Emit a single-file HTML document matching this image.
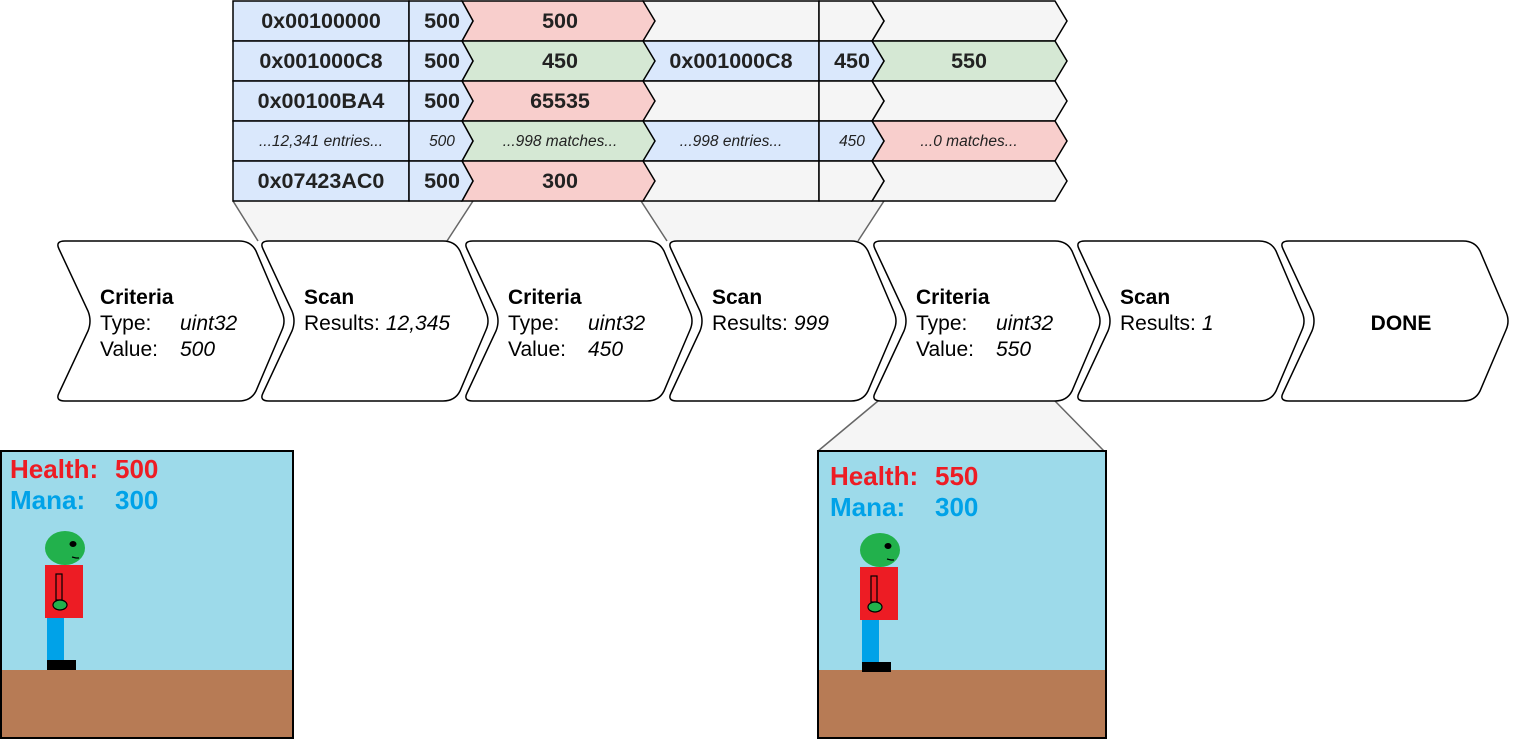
<!DOCTYPE html>
<html><head><meta charset="utf-8"><style>
html,body{margin:0;padding:0;background:#fff;}
svg{display:block;font-family:"Liberation Sans",Arial,sans-serif;}
</style></head><body>
<svg id="d" width="1514" height="740" viewBox="0 0 1514 740" xmlns="http://www.w3.org/2000/svg">
<g>
<polygon points="233,201 473,201 447,241 258,241" fill="#f5f5f5" stroke="none"/>
<line x1="233" y1="201" x2="258" y2="241" stroke="#666" stroke-width="1.5"/>
<line x1="473" y1="201" x2="447" y2="241" stroke="#666" stroke-width="1.5"/>
<polygon points="641,201 884,201 858,241 667,241" fill="#f5f5f5"/>
<line x1="641" y1="201" x2="667" y2="241" stroke="#666" stroke-width="1.5"/>
<line x1="884" y1="201" x2="858" y2="241" stroke="#666" stroke-width="1.5"/>
<polygon points="878,401 1055,401 1104,451 818,451" fill="#f5f5f5"/>
<line x1="878" y1="401" x2="818" y2="451" stroke="#666" stroke-width="1.5"/>
<line x1="1055" y1="401" x2="1104" y2="451" stroke="#666" stroke-width="1.5"/>
</g>
<g id="table"></g>
<g id="flow"></g>
<g id="pics"></g>
</svg>
<script>
const NS="http://www.w3.org/2000/svg";
function mk(p,tag,attrs,txt){const e=document.createElementNS(NS,tag);for(const k in attrs)e.setAttribute(k,attrs[k]);if(txt!==undefined)e.textContent=txt;p.appendChild(e);return e;}
const BLUE="#dae8fc",GREEN="#d5e8d4",RED="#f8cecc",GREY="#f5f5f5";
const addr1=["0x00100000","0x001000C8","0x00100BA4","...12,341 entries...","0x07423AC0"];
const val1=["500","500","500","500","500"];
const res1=["500","450","65535","...998 matches...","300"];
const res1Color=[RED,GREEN,RED,GREEN,RED];
const addr2=["","0x001000C8","","...998 entries...",""];
const val2=["","450","","450",""];
const res2=["","550","","...0 matches...",""];
const res2Color=[GREY,GREEN,GREY,RED,GREY];
const T=document.getElementById('table');
for(let r=0;r<5;r++){
  const y=1+r*40,m=y+20,b=y+40,it=(r===3);
  const fs=it?"15.5":"21.5",fw=it?"normal":"bold",fst=it?"italic":"normal",dy=it?5:7;
  const blue2=addr2[r]!==""?BLUE:GREY;
  let e=mk(T,'rect',{x:233,y:y,width:176,height:40,fill:BLUE,stroke:"#000","stroke-width":1.5});
  
  e=mk(T,'text',{x:321,y:m+dy,"text-anchor":"middle","font-size":fs,"font-weight":fw,"font-style":fst,fill:"#222"},addr1[r]);
  
  e=mk(T,'polygon',{points:`872,${y} 1055,${y} 1067,${m} 1055,${b} 872,${b} 884,${m}`,fill:res2Color[r],stroke:"#000","stroke-width":1.5});
  
  e=mk(T,'rect',{x:643,y:y,width:176,height:40,fill:blue2,stroke:"#000","stroke-width":1.5});
  
  e=mk(T,'polygon',{points:`819,${y} 872,${y} 884,${m} 872,${b} 819,${b}`,fill:blue2,stroke:"#000","stroke-width":1.5});
  
  e=mk(T,'polygon',{points:`462,${y} 643,${y} 655,${m} 643,${b} 462,${b} 473,${m}`,fill:res1Color[r],stroke:"#000","stroke-width":1.5});
  
  e=mk(T,'polygon',{points:`409,${y} 462,${y} 473,${m} 462,${b} 409,${b}`,fill:BLUE,stroke:"#000","stroke-width":1.5});
  
  e=mk(T,'text',{x:442,y:m+dy,"text-anchor":"middle","font-size":fs,"font-weight":fw,"font-style":fst,fill:"#222"},val1[r]);
  
  e=mk(T,'text',{x:560,y:m+dy,"text-anchor":"middle","font-size":fs,"font-weight":fw,"font-style":fst,fill:"#222"},res1[r]);
  
  if(addr2[r]!==""){
    e=mk(T,'text',{x:731,y:m+dy,"text-anchor":"middle","font-size":fs,"font-weight":fw,"font-style":fst,fill:"#222"},addr2[r]);
    
    e=mk(T,'text',{x:852,y:m+dy,"text-anchor":"middle","font-size":fs,"font-weight":fw,"font-style":fst,fill:"#222"},val2[r]);
    
    e=mk(T,'text',{x:969,y:m+dy,"text-anchor":"middle","font-size":fs,"font-weight":fw,"font-style":fst,fill:"#222"},res2[r]);
    
  }
}
const stepTitles=["Criteria","Scan","Criteria","Scan","Criteria","Scan","DONE"];
const stepLines=[[["Type:","uint32"],["Value:","500"]],[["Results:","12,345"]],[["Type:","uint32"],["Value:","450"]],[["Results:","999"]],[["Type:","uint32"],["Value:","550"]],[["Results:","1"]],[]];
const F=document.getElementById('flow');
for(let i=0;i<7;i++){
  const x=55+204*i;
  const d=`M${x+10},241 L${x+184},241 Q${x+196},241 ${x+201},251 L${x+227},312 Q${x+231},321 ${x+227},330 L${x+201},391 Q${x+196},401 ${x+184},401 L${x+10},401 Q${x},401 ${x+4},393 L${x+33},331 Q${x+37},321 ${x+33},311 L${x+4},249 Q${x},241 ${x+10},241 Z`;
  let e=mk(F,'path',{d:d,fill:"#fff",stroke:"#000","stroke-width":1.5});
  
  if(i===6){
    e=mk(F,'text',{x:x+122,y:330,"text-anchor":"middle","font-size":21,"font-weight":"bold",fill:"#000"},stepTitles[i]);
    
    continue;
  }
  e=mk(F,'text',{x:x+45,y:304,"font-size":21,"font-weight":"bold",fill:"#000"},stepTitles[i]);
  
  stepLines[i].forEach((ln,j)=>{
    const t=mk(F,'text',{x:x+45,y:330+26*j,"font-size":21,fill:"#000"});
    
    mk(t,'tspan',{},ln[0]);
    if(ln[0]==="Results:") mk(t,'tspan',{dx:6,"font-style":"italic"},ln[1]);
    else mk(t,'tspan',{x:x+125,"font-style":"italic"},ln[1]);
  });
}
const health=["500","550"],mana=["300","300"];
const P=document.getElementById('pics');
[[1,293],[818,1106]].forEach((bx,k)=>{
  const x0=bx[0],w=bx[1]-bx[0];
  const g=mk(P,'g',{});
  
  mk(g,'rect',{x:x0,y:451,width:w,height:287,fill:"#9ddaea"});
  let e=mk(g,'rect',{x:x0,y:670,width:w,height:68,fill:"#b77b55"});
  
  const tx=x0+9+(k?3:0),ty=k?485:478;
  e=mk(g,'text',{x:tx,y:ty,"font-size":26,"font-weight":"bold",fill:"#ed1c24"},"Health:");
  
  e=mk(g,'text',{x:tx+105,y:ty,"font-size":26,"font-weight":"bold",fill:"#ed1c24"},health[k]);
  
  e=mk(g,'text',{x:tx,y:ty+31,"font-size":26,"font-weight":"bold",fill:"#00a2e8"},"Mana:");
  
  e=mk(g,'text',{x:tx+105,y:ty+31,"font-size":26,"font-weight":"bold",fill:"#00a2e8"},mana[k]);
  
  const cx=x0+(k?43:45),dy=k?2:0;
  const ch=mk(g,'g',{});
  
  mk(ch,'rect',{x:cx+1,y:617+dy,width:17,height:44,fill:"#00a2e8"});
  mk(ch,'rect',{x:cx+1,y:660+dy,width:29,height:10,fill:"#000"});
  mk(ch,'rect',{x:cx-1,y:565+dy,width:38,height:53,fill:"#ed1c24"});
  mk(ch,'ellipse',{cx:cx+19,cy:548+dy,rx:20,ry:17,fill:"#22b14c"});
  mk(ch,'ellipse',{cx:cx+27,cy:544+dy,rx:3.5,ry:3,fill:"#000"});
  mk(ch,'path',{d:`M${cx+26},${557+dy} l4,1 l3,0`,stroke:"#000","stroke-width":1.2,fill:"none"});
  mk(ch,'rect',{x:cx+10,y:574+dy,width:6,height:26,fill:"#ed1c24",stroke:"#000","stroke-width":1.2});
  mk(ch,'ellipse',{cx:cx+14,cy:605+dy,rx:7,ry:5,fill:"#22b14c",stroke:"#000","stroke-width":1.2});
  mk(g,'rect',{x:x0,y:451,width:w,height:287,fill:"none",stroke:"#000","stroke-width":2});
});
</script>
</body></html>
